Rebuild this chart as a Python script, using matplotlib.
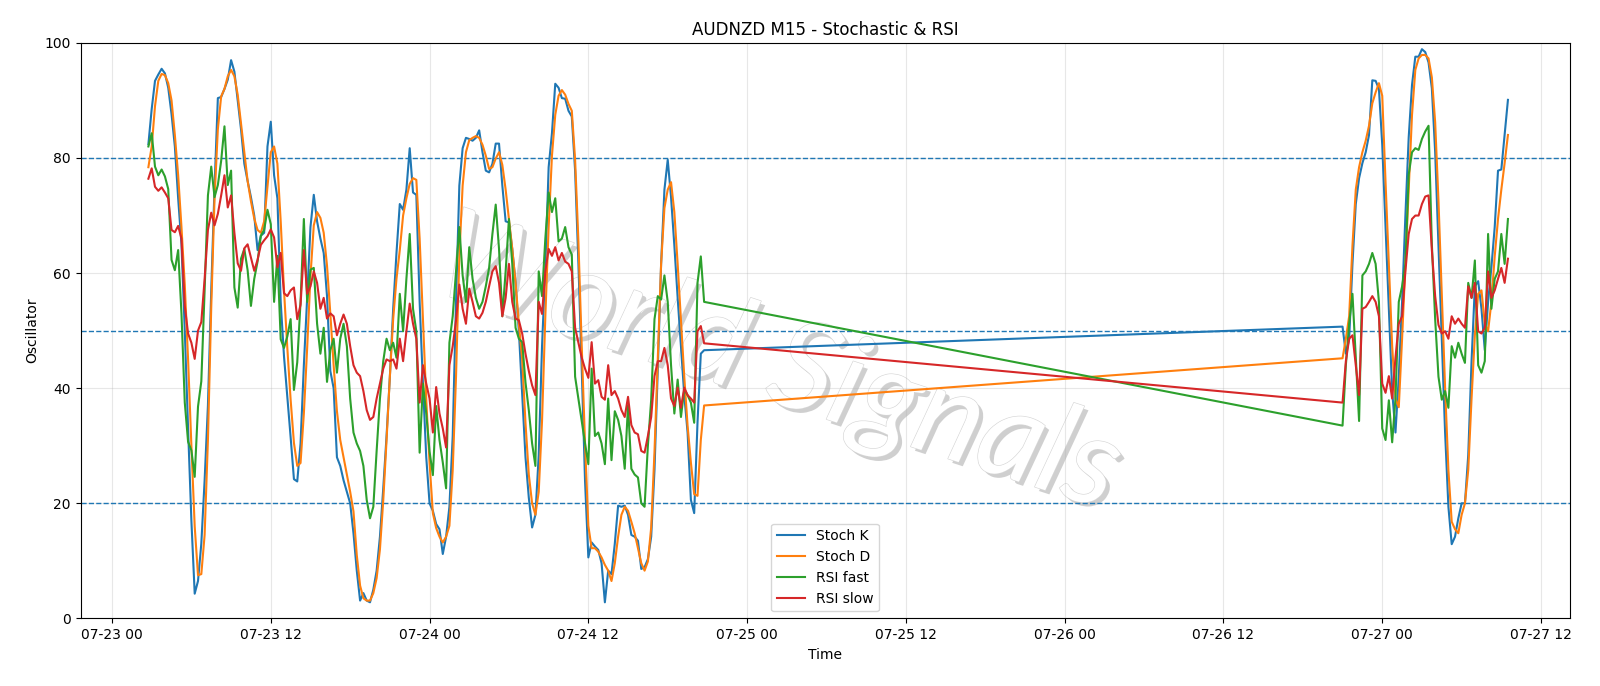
import matplotlib
matplotlib.use("Agg")
import matplotlib.dates as mdates
import matplotlib.patheffects as pe
import matplotlib.pyplot as plt
import pandas as pd


# two blocks of M15 bars, the gap between them is just drawn straight across
SEG1_START = "2025-07-23 02:45"
SEG2_START = "2025-07-26 21:00"

stoch_k_1 = [
    82.4, 88.5, 93.4, 94.5, 95.5, 94.7, 92.2, 87.6, 82.0, 73.0,
    65.0, 50.0, 33.0, 17.0, 4.3, 6.5, 13.0, 24.0, 37.0, 57.0,
    75.0, 90.4, 90.6, 92.0, 93.6, 97.0, 95.0, 90.0, 85.0, 79.0,
    76.0, 73.2, 70.0, 64.0, 66.5, 67.0, 82.0, 86.3, 77.0, 73.0,
    55.0, 45.5, 38.5, 31.5, 24.2, 23.8, 30.4, 44.0, 55.7, 68.0,
    73.6, 69.0, 66.0, 63.5, 56.0, 43.0, 40.0, 28.0, 26.5, 24.0,
    22.0, 20.0, 14.8, 8.3, 3.1, 4.4, 3.1, 2.8, 5.0, 8.3,
    14.2, 22.6, 31.7, 42.0, 53.8, 63.5, 72.0, 71.0, 74.5, 81.7,
    74.0, 73.6, 55.0, 40.8, 28.0, 20.0, 18.7, 16.4, 15.5, 11.2,
    14.2, 19.4, 31.7, 55.0, 75.2, 81.7, 83.5, 83.3, 83.0, 83.5,
    84.8, 81.0, 77.8, 77.5, 79.0, 82.5, 82.5, 75.2, 69.0, 68.8,
    64.2, 58.3, 49.9, 39.0, 28.0, 21.0, 15.8, 18.0, 28.4, 47.3,
    61.0, 78.4, 84.3, 92.9, 92.2, 90.4, 90.3, 88.2, 87.2, 77.8,
    61.6, 43.4, 23.9, 10.6, 13.2, 12.5, 11.9, 9.6, 2.8, 8.3,
    7.7, 13.0, 19.6, 19.4, 19.6, 18.0, 14.5, 14.2, 13.5, 8.6,
    8.9, 10.3, 14.2, 25.8, 43.4, 61.6, 74.5, 79.7, 73.2, 64.8,
    55.7, 47.3, 38.8, 32.3, 20.6, 18.3, 34.0, 46.0, 46.6,
]
stoch_d_1 = [
    78.4, 82.0, 89.0, 93.4, 94.6, 94.4, 93.0, 90.0, 84.0, 77.0,
    68.0, 58.0, 45.0, 30.0, 16.0, 7.5, 7.7, 14.5, 31.0, 54.0,
    73.0, 85.0, 90.7, 92.0, 94.2, 95.3, 94.2, 91.0, 86.0, 81.0,
    76.0, 72.5, 69.5, 67.5, 67.0, 69.0, 75.0, 81.0, 82.0, 79.0,
    69.0, 57.0, 47.0, 38.0, 30.5, 26.5, 27.0, 35.6, 47.0, 59.5,
    68.3, 70.6, 69.6, 67.0, 61.3, 53.0, 44.0, 36.0, 31.0, 28.0,
    25.0, 22.0, 18.6, 11.0, 5.7, 3.5, 3.1, 3.1, 4.4, 7.0,
    12.0, 20.5, 31.0, 42.0, 52.0, 59.0, 64.0, 70.0, 73.0, 75.5,
    76.5, 76.2, 66.0, 52.0, 38.0, 27.0, 18.3, 15.7, 14.2, 13.2,
    14.2, 16.1, 25.8, 42.0, 62.9, 75.2, 81.0, 83.1, 83.5, 83.8,
    83.5, 82.3, 80.4, 78.1, 78.4, 79.9, 81.0, 78.8, 74.5, 69.4,
    64.2, 58.3, 51.2, 45.0, 34.0, 25.0, 20.0, 18.0, 22.0, 34.3,
    52.5, 68.0, 80.4, 87.5, 90.8, 91.8, 91.0, 89.4, 88.2, 79.7,
    65.5, 47.3, 30.4, 16.1, 12.2, 12.2, 11.6, 10.6, 9.3, 8.3,
    6.5, 9.6, 14.2, 18.0, 19.4, 18.7, 16.8, 14.8, 12.2, 9.6,
    8.3, 9.9, 15.8, 29.0, 45.3, 61.6, 71.3, 74.5, 75.8, 70.6,
    61.6, 51.8, 42.0, 33.5, 27.1, 21.6, 21.3, 31.0, 37.0,
]
rsi_fast_1 = [
    82.0, 84.3, 78.5, 77.0, 78.0, 76.8, 74.6, 62.3, 60.5, 64.0,
    53.0, 37.5, 30.7, 29.2, 24.6, 36.8, 41.2, 57.0, 73.5, 78.5,
    73.2, 75.3, 79.5, 85.5, 75.3, 77.8, 57.5, 54.0, 62.5, 64.2,
    60.5, 54.3, 59.0, 62.0, 66.5, 67.5, 71.0, 68.5, 55.0, 63.0,
    48.5, 47.0, 49.0, 52.0, 39.7, 44.5, 55.0, 69.4, 55.0, 60.6,
    60.9, 51.2, 46.0, 50.5, 41.1, 46.6, 48.6, 42.7, 48.6, 51.2,
    47.3, 38.2, 32.3, 30.4, 29.1, 26.5, 20.6, 17.4, 19.4, 29.1,
    38.2, 44.7, 48.6, 46.6, 47.9, 45.3, 56.4, 49.9, 59.0, 66.8,
    53.8, 49.9, 28.8, 40.8, 35.6, 29.0, 24.9, 36.9, 31.0, 27.1,
    22.6, 47.9, 52.5, 60.3, 68.0, 59.6, 55.0, 64.5, 59.0, 55.7,
    53.8, 55.0, 57.7, 60.9, 66.8, 71.9, 64.2, 52.5, 60.3, 69.4,
    61.6, 50.5, 48.6, 48.0, 41.0, 36.2, 30.4, 26.5, 60.3, 56.0,
    66.0, 74.0, 70.6, 73.0, 65.5, 66.0, 68.0, 64.5, 63.2, 42.0,
    38.2, 34.3, 30.4, 26.8, 43.4, 31.7, 32.3, 30.4, 26.8, 38.2,
    27.5, 36.0, 34.5, 31.7, 26.0, 37.0, 26.0, 25.0, 24.5, 20.0,
    19.4, 30.0, 38.0, 52.0, 56.0, 55.4, 59.6, 55.0, 44.0, 35.6,
    41.5, 35.0, 39.8, 38.8, 37.5, 34.0, 58.3, 62.9, 55.0,
]
rsi_slow_1 = [
    76.4, 78.2, 75.0, 74.3, 74.9, 74.0, 73.0, 67.5, 67.1, 68.2,
    66.0, 54.3, 49.5, 47.9, 45.1, 50.0, 51.5, 59.0, 67.5, 70.5,
    68.3, 70.3, 73.5, 77.0, 71.4, 73.5, 67.0, 61.7, 60.4, 64.3,
    65.0, 62.7, 60.4, 62.3, 64.9, 65.7, 66.4, 67.6, 66.2, 61.0,
    63.5, 56.5, 56.0, 57.0, 57.5, 52.0, 54.5, 64.0, 56.4, 57.7,
    60.3, 58.3, 53.8, 55.7, 52.1, 53.0, 52.5, 49.2, 51.2, 52.8,
    51.2, 47.3, 44.0, 42.7, 42.1, 39.5, 36.2, 34.5, 35.0, 38.2,
    40.8, 43.4, 45.0, 44.7, 45.0, 43.4, 48.6, 44.7, 49.9, 54.7,
    51.2, 48.6, 37.5, 44.0, 40.8, 38.2, 32.3, 40.2, 35.6, 33.0,
    29.7, 44.0, 47.3, 51.8, 58.0, 53.8, 51.2, 57.3, 55.0, 52.5,
    52.1, 53.1, 55.0, 57.7, 60.3, 61.2, 58.3, 52.5, 55.7, 61.6,
    55.0, 52.1, 51.8, 49.5, 46.0, 43.0, 40.5, 38.8, 55.0, 52.9,
    60.3, 64.2, 63.0, 64.5, 62.2, 63.5, 62.0, 61.6, 60.3, 50.5,
    47.9, 45.3, 43.4, 41.8, 48.0, 40.8, 41.4, 38.5, 38.0, 44.0,
    38.8, 39.5, 38.2, 36.2, 35.0, 38.5, 33.6, 32.3, 32.0, 29.1,
    28.8, 31.7, 35.0, 42.1, 44.7, 44.7, 47.0, 44.0, 38.2, 36.9,
    40.1, 36.6, 40.1, 38.8, 38.2, 37.5, 49.9, 50.8, 47.8,
]

stoch_k_2 = [
    50.7, 46.0, 48.5, 61.6, 72.0, 76.5, 79.1, 81.0, 84.0, 93.5,
    93.4, 92.0, 82.3, 68.0, 53.8, 39.5, 32.3, 42.0, 55.0, 70.0,
    83.6, 92.7, 97.6, 97.6, 98.9, 98.4, 96.6, 92.1, 81.0, 64.8,
    48.6, 32.3, 19.4, 12.9, 14.2, 17.4, 20.0, 20.0, 28.4, 44.7,
    57.7, 58.6, 53.8, 46.6, 55.0, 61.0, 68.0, 77.8, 78.0, 84.0,
    90.1,
]
stoch_d_2 = [
    45.2, 48.6, 52.5, 64.8, 74.5, 78.4, 81.0, 83.0, 85.6, 89.5,
    91.4, 93.0, 90.8, 75.8, 61.6, 47.3, 38.2, 36.7, 48.6, 61.6,
    74.5, 87.5, 95.3, 97.3, 97.9, 97.9, 97.3, 94.0, 86.2, 72.6,
    56.4, 40.1, 25.8, 16.8, 15.5, 14.8, 18.0, 20.0, 25.8, 38.2,
    49.2, 56.4, 57.0, 51.2, 49.9, 55.0, 62.9, 69.4, 74.5, 79.1,
    84.0,
]
rsi_fast_2 = [
    33.5, 44.0, 51.2, 56.4, 45.3, 34.3, 59.6, 60.3, 61.6, 63.5,
    61.6, 55.0, 33.0, 31.0, 37.9, 30.6, 38.2, 55.0, 57.7, 61.6,
    77.1, 81.0, 81.7, 81.4, 83.3, 84.6, 85.6, 65.0, 52.0, 42.0,
    38.0, 39.5, 36.6, 47.3, 45.3, 47.9, 46.0, 44.4, 58.3, 55.7,
    62.2, 44.0, 42.7, 44.7, 66.8, 53.8, 59.0, 60.3, 66.8, 61.6,
    69.4,
]
rsi_slow_2 = [
    37.5, 44.7, 48.6, 49.2, 44.0, 38.8, 53.8, 54.1, 55.0, 56.0,
    55.0, 52.5, 40.8, 39.2, 42.1, 38.2, 45.3, 51.2, 52.5, 60.3,
    66.8, 69.4, 70.0, 70.0, 72.0, 73.3, 73.5, 64.0, 56.0, 51.0,
    49.5, 49.9, 48.6, 52.5, 51.2, 52.1, 51.2, 50.5, 57.7, 55.7,
    58.3, 49.9, 49.5, 50.5, 60.3, 55.7, 57.0, 59.0, 60.9, 58.3,
    62.5,
]

LEVELS = [20, 50, 80]


def main():
    times = pd.date_range(SEG1_START, periods=len(stoch_k_1), freq="15min").append(
        pd.date_range(SEG2_START, periods=len(stoch_k_2), freq="15min")
    )
    series = [
        ("Stoch K", stoch_k_1 + stoch_k_2),
        ("Stoch D", stoch_d_1 + stoch_d_2),
        ("RSI fast", rsi_fast_1 + rsi_fast_2),
        ("RSI slow", rsi_slow_1 + rsi_slow_2),
    ]

    fig, ax = plt.subplots(figsize=(16, 6.86), dpi=100)
    fig.subplots_adjust(left=0.0504, right=0.981, top=0.9375, bottom=0.0985)

    for name, vals in series:
        ax.plot(times, vals, label=name, linewidth=1.5, zorder=3)

    for lvl in LEVELS:
        ax.axhline(lvl, linestyle="--", linewidth=1, color="tab:blue", zorder=2)

    # watermark: italic text, white fill, light outline and a soft grey drop shadow
    ax.text(0.468, 0.436, "World Signals", transform=ax.transAxes,
            family="Lato", fontsize=90, style="italic", rotation=-18,
            ha="center", va="center", color="white", zorder=1,
            path_effects=[
                pe.withSimplePatchShadow(offset=(3, -3), shadow_rgbFace="#b0b0b0", alpha=0.6),
                pe.Stroke(linewidth=0.9, foreground="#d6d6d6"),
                pe.Normal(),
            ])

    day0 = pd.Timestamp("2025-07-23")
    ax.set_xlim(day0 - pd.Timedelta(hours=2.37), day0 + pd.Timedelta(hours=110.16))
    ax.set_ylim(0, 100)
    ax.xaxis.set_major_locator(mdates.HourLocator(byhour=[0, 12]))
    ax.xaxis.set_major_formatter(mdates.DateFormatter("%m-%d %H"))

    ax.set_title("AUDNZD M15 - Stochastic & RSI", fontsize=12)
    ax.set_xlabel("Time")
    ax.set_ylabel("Oscillator")
    ax.grid(True, alpha=0.3)
    ax.legend(loc="lower center")

    fig.savefig("out.png")


if __name__ == "__main__":
    main()
